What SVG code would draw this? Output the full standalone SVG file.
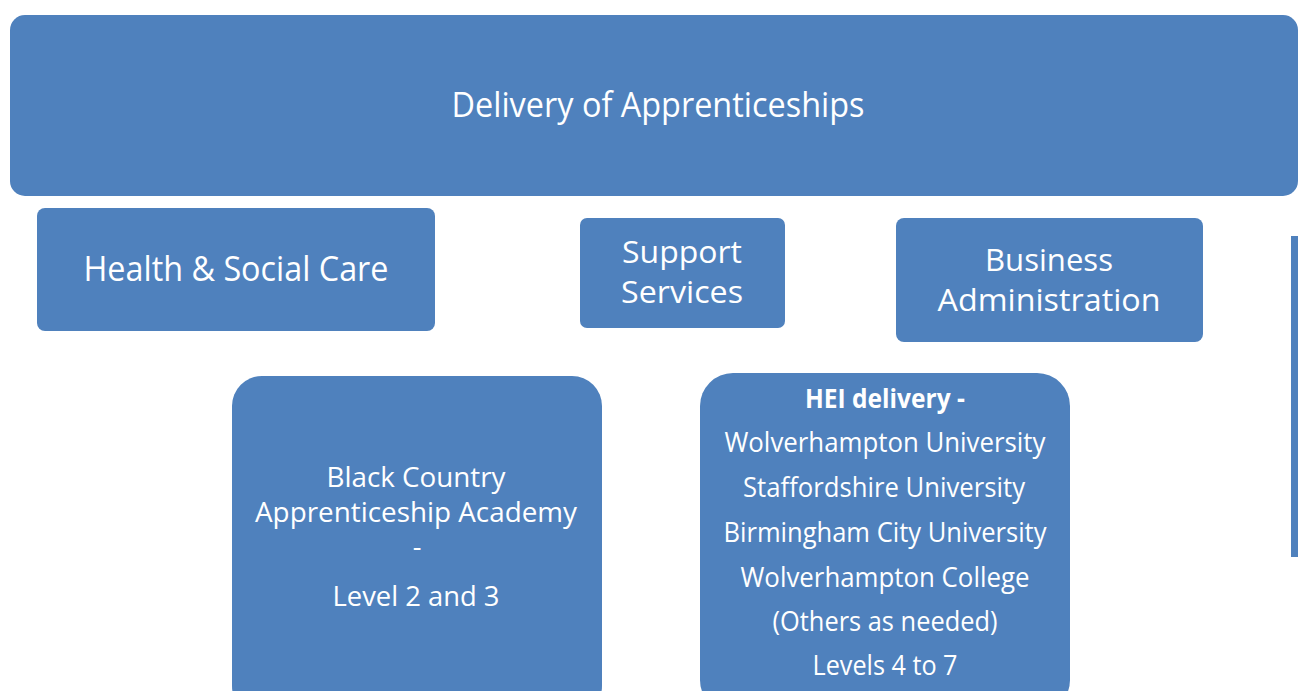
<svg xmlns="http://www.w3.org/2000/svg" width="1298" height="691" viewBox="0 0 1298 691">
  <style>
    .box { fill: #4F81BD; }
    .t { fill: #ffffff; font-family: "Open Sans", "Noto Sans", "Liberation Sans", sans-serif; text-anchor: middle; }
    .b { font-weight: bold; }
  </style>
  <rect width="1298" height="691" fill="#ffffff"/>

  <g id="connectors"></g>

  <g id="delivery">
    <rect class="box" x="10" y="15" width="1288" height="181" rx="15" ry="15"/>
    <text class="t" x="658" y="117" font-size="34" textLength="413" lengthAdjust="spacingAndGlyphs">Delivery of Apprenticeships</text>
  </g>

  <g id="health">
    <rect class="box" x="37" y="208" width="398" height="123" rx="8" ry="8"/>
    <text class="t" x="236" y="281" font-size="34" textLength="305" lengthAdjust="spacingAndGlyphs">Health &amp; Social Care</text>
  </g>

  <g id="support">
    <rect class="box" x="580" y="218" width="205" height="110" rx="7" ry="7"/>
    <text class="t" x="682" y="263" font-size="31" textLength="120" lengthAdjust="spacingAndGlyphs">Support</text>
    <text class="t" x="682" y="303" font-size="31" textLength="122" lengthAdjust="spacingAndGlyphs">Services</text>
  </g>

  <g id="business">
    <rect class="box" x="896" y="218" width="307" height="124" rx="8" ry="8"/>
    <text class="t" x="1049" y="271" font-size="31" textLength="128" lengthAdjust="spacingAndGlyphs">Business</text>
    <text class="t" x="1049" y="311" font-size="31" textLength="223" lengthAdjust="spacingAndGlyphs">Administration</text>
  </g>

  <g id="side-bar">
    <rect class="box" x="1291" y="236" width="7" height="321"/>
  </g>

  <g id="academy">
    <rect class="box" x="232" y="376" width="370" height="340" rx="30" ry="30"/>
    <text class="t" x="416" y="487" font-size="27" textLength="179" lengthAdjust="spacingAndGlyphs">Black Country</text>
    <text class="t" x="416" y="522" font-size="27" textLength="322" lengthAdjust="spacingAndGlyphs">Apprenticeship Academy</text>
    <text class="t" x="417" y="556" font-size="27">-</text>
    <text class="t" x="416" y="606" font-size="27" textLength="167" lengthAdjust="spacingAndGlyphs">Level 2 and 3</text>
  </g>

  <g id="hei">
    <rect class="box" x="700" y="373" width="370" height="340" rx="33" ry="33"/>
    <text class="t b" x="885" y="408" font-size="27" textLength="160" lengthAdjust="spacingAndGlyphs">HEI delivery -</text>
    <text class="t" x="885" y="452" font-size="27" textLength="321" lengthAdjust="spacingAndGlyphs">Wolverhampton University</text>
    <text class="t" x="884" y="497" font-size="27" textLength="282" lengthAdjust="spacingAndGlyphs">Staffordshire University</text>
    <text class="t" x="885" y="542" font-size="27" textLength="323" lengthAdjust="spacingAndGlyphs">Birmingham City University</text>
    <text class="t" x="885" y="587" font-size="27" textLength="289" lengthAdjust="spacingAndGlyphs">Wolverhampton College</text>
    <text class="t" x="885" y="631" font-size="27" textLength="225" lengthAdjust="spacingAndGlyphs">(Others as needed)</text>
    <text class="t" x="885" y="675" font-size="27" textLength="145" lengthAdjust="spacingAndGlyphs">Levels 4 to 7</text>
  </g>
</svg>
